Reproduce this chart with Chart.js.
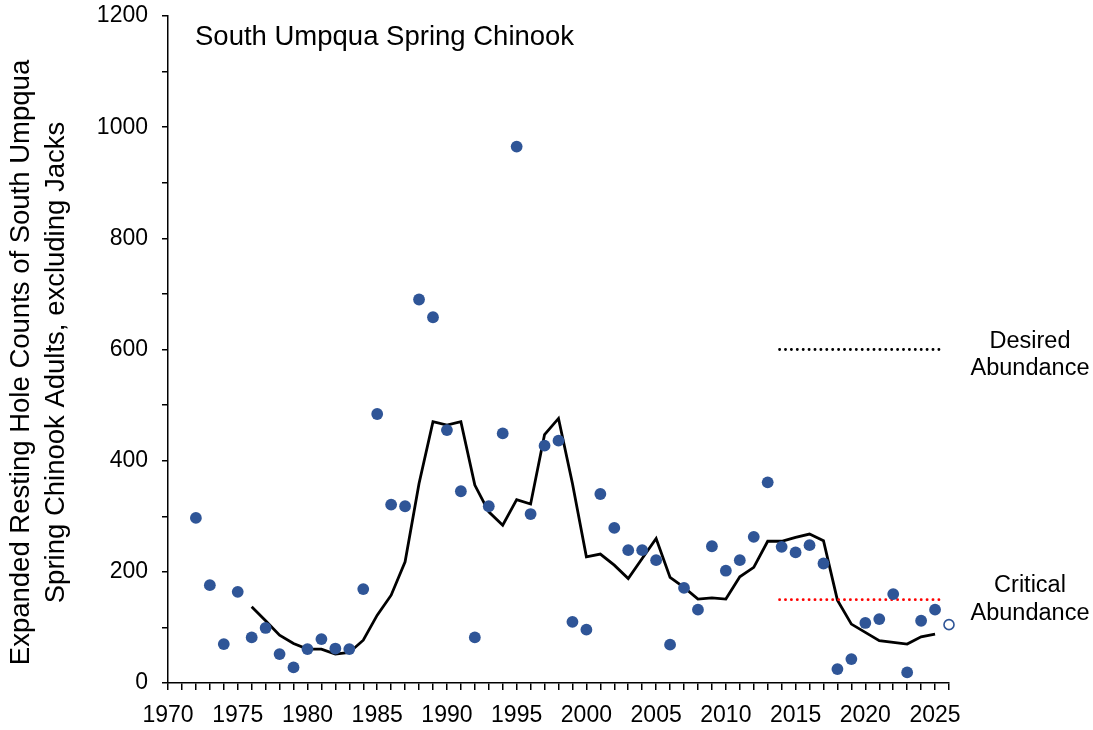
<!DOCTYPE html>
<html>
<head>
<meta charset="utf-8">
<script src="https://cdn.jsdelivr.net/npm/chart.js@4.4.1/dist/chart.umd.min.js"></script>
<style>
html,body{margin:0;padding:0;background:#fff;}
#wrap{width:1093px;height:730px;position:relative;}
</style>
</head>
<body>
<div id="wrap"><canvas id="c" width="1093" height="730"></canvas></div>
<script>
// ---- data ----
const chartTitle = "South Umpqua Spring Chinook";
const yAxisTitle = ["Expanded Resting Hole Counts of South Umpqua", "Spring Chinook Adults, excluding Jacks"];

const years = [1972,1973,1974,1975,1976,1977,1978,1979,1980,1981,1982,1983,1984,1985,1986,1987,1988,1989,1990,1991,1992,1993,1994,1995,1996,1997,1998,1999,2000,2001,2002,2003,2004,2005,2006,2007,2008,2009,2010,2011,2012,2013,2014,2015,2016,2017,2018,2019,2020,2021,2022,2023,2024,2025];
const counts = [297,176,70,164,82,99,52,28,61,79,62,61,169,484,321,318,690,658,455,345,82,318,449,965,304,427,436,110,96,340,279,239,239,221,69,171,132,246,202,221,263,361,245,235,248,215,25,43,108,115,160,19,112,132];

const avgYears = [1976,1977,1978,1979,1980,1981,1982,1983,1984,1985,1986,1987,1988,1989,1990,1991,1992,1993,1994,1995,1996,1997,1998,1999,2000,2001,2002,2003,2004,2005,2006,2007,2008,2009,2010,2011,2012,2013,2014,2015,2016,2017,2018,2019,2020,2021,2022,2023,2024,2025];
const avgValues = [137,112,86,71,61,61,52,55,77,122,158,218,359,470,464,470,356,308,284,330,322,447,476,359,227,232,212,188,224,260,190,172,151,153,151,191,208,255,255,262,268,256,149,106,91,76,73,70,83,88];

const prelimYears = [2026];
const prelimValues = [105];

const desiredYears = [2013.85, 2025.55];
const desiredLevel = [600, 600];
const criticalYears = [2013.85, 2025.55];
const criticalLevel = [150, 150];
const desiredLabel = ["Desired", "Abundance"];
const criticalLabel = ["Critical", "Abundance"];

const xTickLabels = [1970,1975,1980,1985,1990,1995,2000,2005,2010,2015,2020,2025];
const yTickLabels = [0,200,400,600,800,1000,1200];

// ---- build ----
const FONT = '"Liberation Sans", Arial, sans-serif';
const BLUE = '#2F5597';
const zip = (xs, ys) => xs.map((x, i) => ({x: x, y: ys[i]}));

const textPlugin = {
  id: 'textPlugin',
  afterDraw(chart) {
    const ctx = chart.ctx;
    const xs = chart.scales.x, ys = chart.scales.y;
    ctx.save();
    ctx.fillStyle = '#000';
    ctx.textBaseline = 'alphabetic';
    ctx.textAlign = 'left';
    ctx.font = '27.5px ' + FONT;
    ctx.fillText(chartTitle, xs.left + 27, ys.top + 29);
    ctx.textAlign = 'center';
    ctx.font = '23.5px ' + FONT;
    const cx = xs.right + 81;
    const yd = ys.getPixelForValue(desiredLevel[0]);
    ctx.fillText(desiredLabel[0], cx, yd - 1.5);
    ctx.fillText(desiredLabel[1], cx, yd + 25.5);
    const yc = ys.getPixelForValue(criticalLevel[0]);
    ctx.fillText(criticalLabel[0], cx, yc - 8);
    ctx.fillText(criticalLabel[1], cx, yc + 20.5);
    // rotated y-axis title
    ctx.font = '27.5px ' + FONT;
    ctx.translate(29, (ys.top + ys.bottom) / 2 + 13);
    ctx.rotate(-Math.PI / 2);
    ctx.fillText(yAxisTitle[0], 0, 0);
    ctx.fillText(yAxisTitle[1], 0, 35);
    ctx.restore();
  }
};

new Chart(document.getElementById('c'), {
  type: 'scatter',
  data: {
    datasets: [
      {
        type: 'line', data: zip(avgYears, avgValues), borderColor: '#000', borderWidth: 2.8,
        pointRadius: 0, tension: 0, fill: false, order: 3
      },
      {
        data: zip(years, counts), backgroundColor: BLUE, borderColor: BLUE, borderWidth: 0,
        pointRadius: 5.9, pointHoverRadius: 5.9, order: 1
      },
      {
        data: zip(prelimYears, prelimValues), backgroundColor: '#fff', borderColor: BLUE, borderWidth: 1.6,
        pointRadius: 5, order: 1, clip: false
      },
      {
        type: 'line', data: zip(desiredYears, desiredLevel), borderColor: '#000', borderWidth: 2.8,
        borderDash: [0.1, 5.8], borderCapStyle: 'round', pointRadius: 0, order: 2
      },
      {
        type: 'line', data: zip(criticalYears, criticalLevel), borderColor: '#FF0000', borderWidth: 2.8,
        borderDash: [0.1, 5.8], borderCapStyle: 'round', pointRadius: 0, order: 2
      }
    ]
  },
  options: {
    responsive: false,
    animation: false,
    devicePixelRatio: 1,
    layout: { padding: { top: 16, right: 144, bottom: 0, left: 0 } },
    plugins: { legend: { display: false }, tooltip: { enabled: false }, title: { display: false } },
    scales: {
      x: {
        type: 'linear', min: 1970, max: 2026,
        ticks: {
          stepSize: 1, autoSkip: false, maxRotation: 0, minRotation: 0, color: '#000', padding: 12,
          font: { family: FONT, size: 23 },
          callback: v => xTickLabels.includes(v) ? String(v) : ''
        },
        grid: { drawOnChartArea: false, drawTicks: true, tickLength: 7, color: '#000', lineWidth: 1.5 },
        border: { display: true, color: '#000', width: 1.5 },
        afterFit: s => { s.height = 47; s.paddingLeft = 0; s.paddingRight = 0; }
      },
      y: {
        min: 0, max: 1200,
        ticks: {
          stepSize: 100, autoSkip: false, color: '#000', padding: 14,
          font: { family: FONT, size: 23 },
          callback: v => yTickLabels.includes(v) ? String(v) : ''
        },
        grid: { drawOnChartArea: false, drawTicks: true, tickLength: 6, color: '#000', lineWidth: 1.5 },
        border: { display: true, color: '#000', width: 1.5 },
        title: { display: false },
        afterFit: s => { s.width = 168; s.paddingTop = 0; s.paddingBottom = 0; }
      }
    }
  },
  plugins: [textPlugin]
});
</script>
</body>
</html>
